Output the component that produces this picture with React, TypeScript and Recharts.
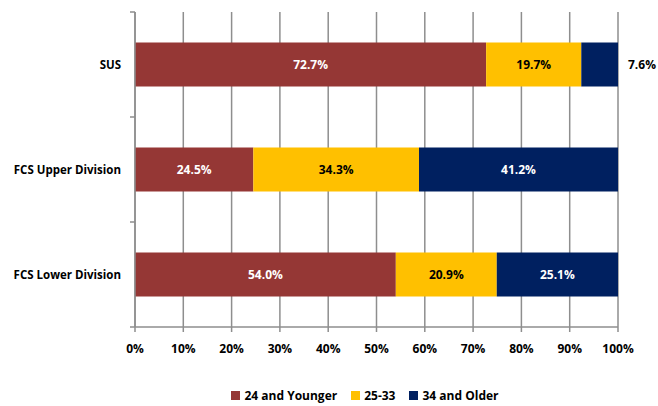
import { BarChart, Bar, XAxis, YAxis, CartesianGrid, Legend, LabelList } from "recharts";

const categories = ["SUS", "FCS Upper Division", "FCS Lower Division"];
const young = [72.7, 24.5, 54.0];
const mid = [19.7, 34.3, 20.9];
const older = [7.6, 41.2, 25.1];
const xTicks = [0, 10, 20, 30, 40, 50, 60, 70, 80, 90, 100];
const seriesNames = ["24 and Younger", "25-33", "34 and Older"];
const colors = ["#953735", "#FFC000", "#002060"];

const data = categories.map((name, i) => ({ name, young: young[i], mid: mid[i], older: older[i] }));

const FONT = "'Open Sans', 'Liberation Sans', sans-serif";
const GRID = "#8e8e8e";
const W = 658;
const H = 406;
const M = { top: 12, right: 40, bottom: 2, left: 0 };
const X_AXIS_H = 57;
const LEGEND_H = 20;
const PLOT_H = H - M.top - M.bottom - X_AXIS_H - LEGEND_H;
const HALF_BAND = PLOT_H / categories.length / 2;
const Y_AXIS_W = 135;

const fmt = (v: number) => `${v.toFixed(1)}%`;

// labels for the navy segment: small slices get their label outside the bar
const OlderLabel = (props: any) => {
  const { x, y, width, height, value } = props;
  const small = value < 10;
  return (
    <text
      x={small ? x + width + 10 : x + width / 2}
      y={y + height / 2}
      textAnchor={small ? "start" : "middle"}
      dominantBaseline="central"
      fill={small ? "#000" : "#fff"}
      fontSize={12}
      fontWeight={700}
      fontFamily={FONT}
    >
      {fmt(value)}
    </text>
  );
};

// category label plus the excel-style tick marks between categories
const CatTick = (props: any) => {
  const { x, y, payload, index } = props;
  const ax = Y_AXIS_W;
  return (
    <g>
      <text x={x + 2} y={y} textAnchor="end" dominantBaseline="central"
        fontSize={11.5} fontWeight={700} fill="#000" fontFamily={FONT}>
        {payload.value}
      </text>
      <line x1={ax - 5} x2={ax} y1={y - HALF_BAND} y2={y - HALF_BAND} stroke={GRID} strokeWidth={1.5} />
      {index === categories.length - 1 && (
        <line x1={ax - 5} x2={ax} y1={y + HALF_BAND} y2={y + HALF_BAND} stroke={GRID} strokeWidth={1.5} />
      )}
    </g>
  );
};

const LegendBox = () => (
  <div style={{ display: "flex", justifyContent: "center", gap: 14, paddingLeft: 112, paddingTop: 3,
    fontFamily: FONT, fontSize: 12, fontWeight: 700, color: "#000" }}>
    {seriesNames.map((n, i) => (
      <span key={n} style={{ display: "flex", alignItems: "center" }}>
        <span style={{ width: 9, height: 9, background: colors[i], marginRight: 4, display: "inline-block" }} />
        {n}
      </span>
    ))}
  </div>
);

export default function App() {
  return (
    <div style={{ position: "absolute", left: 0, top: 0, background: "#fff" }}>
      <BarChart
        width={W}
        height={H}
        data={data}
        layout="vertical"
        margin={M}
        barCategoryGap="29%"
      >
        <CartesianGrid horizontal={false} stroke={GRID} strokeWidth={1.5} />
        <XAxis
          type="number"
          domain={[0, 100]}
          ticks={xTicks}
          tickFormatter={(v) => `${v}%`}
          interval={0}
          axisLine={{ stroke: GRID, strokeWidth: 1.5 }}
          tickLine={{ stroke: GRID, strokeWidth: 1.5 }}
          tickSize={5}
          tickMargin={12}
          tick={{ fontSize: 12, fontWeight: 700, fill: "#000", fontFamily: FONT }}
          height={X_AXIS_H}
        />
        <YAxis
          type="category"
          dataKey="name"
          width={Y_AXIS_W}
          axisLine={{ stroke: GRID, strokeWidth: 1.5 }}
          tickLine={false}
          tickMargin={10}
          tick={<CatTick />}
        />
        <Legend verticalAlign="bottom" height={LEGEND_H} content={<LegendBox />} />
        <Bar dataKey="young" name={seriesNames[0]} stackId="a" fill={colors[0]} isAnimationActive={false}>
          <LabelList dataKey="young" position="center" formatter={(v: any) => fmt(v)}
            fill="#fff" fontSize={12} fontWeight={700} fontFamily={FONT} />
        </Bar>
        <Bar dataKey="mid" name={seriesNames[1]} stackId="a" fill={colors[1]} isAnimationActive={false}>
          <LabelList dataKey="mid" position="center" formatter={(v: any) => fmt(v)}
            fill="#000" fontSize={12} fontWeight={700} fontFamily={FONT} />
        </Bar>
        <Bar dataKey="older" name={seriesNames[2]} stackId="a" fill={colors[2]} isAnimationActive={false}>
          <LabelList dataKey="older" content={OlderLabel} />
        </Bar>
      </BarChart>
    </div>
  );
}
